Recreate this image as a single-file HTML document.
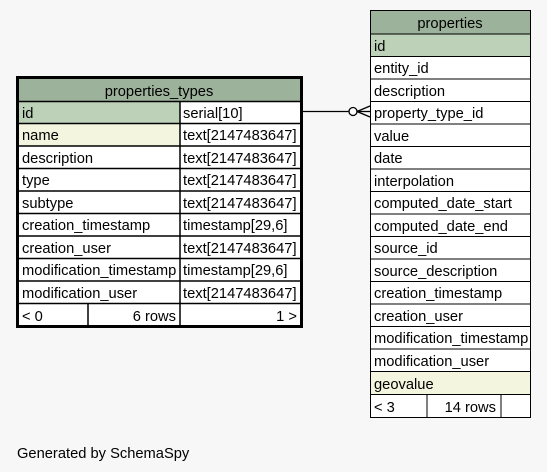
<!DOCTYPE html>
<html><head><style>
html,body{margin:0;padding:0;background:#f7f7f7;}
svg{display:block}
text{font-family:"Liberation Sans",Arial,sans-serif;font-size:14.7px;fill:#000;}
</style></head><body>
<svg width="547" height="472" viewBox="0 0 547 472" xmlns="http://www.w3.org/2000/svg">
<rect width="547" height="472" fill="#f7f7f7"/>
<g>
<rect x="17.5" y="77.5" width="284" height="249" fill="#fff" stroke="#000" stroke-width="3"/>
<rect x="19" y="79" width="281" height="22" fill="#9cb29a"/>
<rect x="19" y="102" width="161" height="21" fill="#bdd1b9"/>
<rect x="19" y="124" width="161" height="22" fill="#f3f5de"/>
<g stroke="#000" stroke-width="1.5">
<line x1="19" y1="101.5" x2="300" y2="101.5"/>
<line x1="19" y1="123.5" x2="300" y2="123.5"/>
<line x1="19" y1="146" x2="300" y2="146"/>
<line x1="19" y1="168.5" x2="300" y2="168.5"/>
<line x1="19" y1="191" x2="300" y2="191"/>
<line x1="19" y1="213.5" x2="300" y2="213.5"/>
<line x1="19" y1="236" x2="300" y2="236"/>
<line x1="19" y1="258.5" x2="300" y2="258.5"/>
<line x1="19" y1="281" x2="300" y2="281"/>
<line x1="19" y1="303.5" x2="300" y2="303.5"/>
<line x1="180" y1="101.5" x2="180" y2="326"/>
<line x1="88" y1="303.5" x2="88" y2="326"/>
</g>
<text x="159" y="96" text-anchor="middle">properties_types</text>
<text x="22" y="118">id</text><text x="183" y="118">serial[10]</text>
<text x="22" y="140">name</text><text x="183" y="140">text[2147483647]</text>
<text x="22" y="163">description</text><text x="183" y="163">text[2147483647]</text>
<text x="22" y="185">type</text><text x="183" y="185">text[2147483647]</text>
<text x="22" y="208">subtype</text><text x="183" y="208">text[2147483647]</text>
<text x="22" y="230">creation_timestamp</text><text x="183" y="230">timestamp[29,6]</text>
<text x="22" y="253">creation_user</text><text x="183" y="253">text[2147483647]</text>
<text x="22" y="275">modification_timestamp</text><text x="183" y="275">timestamp[29,6]</text>
<text x="22" y="298">modification_user</text><text x="183" y="298">text[2147483647]</text>
<text x="22" y="321">&lt; 0</text><text x="176" y="321" text-anchor="end">6 rows</text><text x="297" y="321" text-anchor="end">1 &gt;</text>
</g>
<g>
<rect x="370.5" y="10.5" width="160" height="407" fill="#fff" stroke="#000" stroke-width="1"/>
<rect x="371" y="11" width="159" height="23" fill="#9cb29a"/>
<rect x="371" y="34" width="159" height="23" fill="#bdd1b9"/>
<rect x="371" y="372" width="159" height="22" fill="#f3f5de"/>
<g stroke="#000" stroke-width="1">
<line x1="370" y1="34" x2="530" y2="34"/>
<line x1="370" y1="56.5" x2="530" y2="56.5"/>
<line x1="370" y1="79" x2="530" y2="79"/>
<line x1="370" y1="101.5" x2="530" y2="101.5"/>
<line x1="370" y1="124" x2="530" y2="124"/>
<line x1="370" y1="146.5" x2="530" y2="146.5"/>
<line x1="370" y1="169" x2="530" y2="169"/>
<line x1="370" y1="191.5" x2="530" y2="191.5"/>
<line x1="370" y1="214" x2="530" y2="214"/>
<line x1="370" y1="236.5" x2="530" y2="236.5"/>
<line x1="370" y1="259" x2="530" y2="259"/>
<line x1="370" y1="281.5" x2="530" y2="281.5"/>
<line x1="370" y1="304" x2="530" y2="304"/>
<line x1="370" y1="326.5" x2="530" y2="326.5"/>
<line x1="370" y1="349" x2="530" y2="349"/>
<line x1="370" y1="371.5" x2="530" y2="371.5"/>
<line x1="370" y1="394.5" x2="530" y2="394.5"/>
<line x1="427" y1="394.5" x2="427" y2="418"/>
<line x1="501" y1="394.5" x2="501" y2="418"/>
</g>
<text x="450" y="28" text-anchor="middle">properties</text>
<text x="374" y="51">id</text>
<text x="374" y="73">entity_id</text>
<text x="374" y="96">description</text>
<text x="374" y="118">property_type_id</text>
<text x="374" y="141">value</text>
<text x="374" y="163">date</text>
<text x="374" y="186">interpolation</text>
<text x="374" y="208">computed_date_start</text>
<text x="374" y="231">computed_date_end</text>
<text x="374" y="253">source_id</text>
<text x="374" y="276">source_description</text>
<text x="374" y="298">creation_timestamp</text>
<text x="374" y="321">creation_user</text>
<text x="374" y="343">modification_timestamp</text>
<text x="374" y="366">modification_user</text>
<text x="374" y="389">geovalue</text>
<text x="374" y="412">&lt; 3</text><text x="496" y="412" text-anchor="end">14 rows</text>
</g>
<g stroke="#000" stroke-width="1.3" fill="none">
<line x1="303" y1="111.5" x2="349" y2="111.5"/>
<circle cx="353" cy="111.5" r="4" fill="#fff"/>
<line x1="357" y1="111.5" x2="370" y2="111.5"/>
<line x1="357" y1="111.5" x2="370" y2="106"/>
<line x1="357" y1="111.5" x2="370" y2="117"/>
</g>
<text x="17" y="458">Generated by SchemaSpy</text>
</svg>
</body></html>
